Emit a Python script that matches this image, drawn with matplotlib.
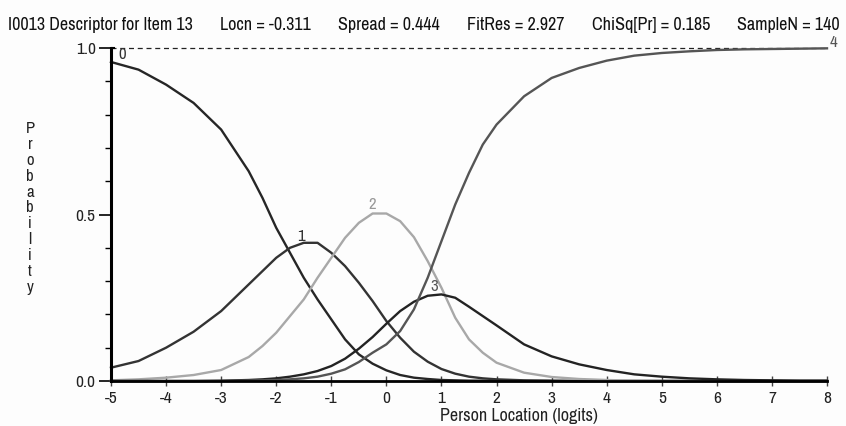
import matplotlib
matplotlib.use("Agg")
import matplotlib.pyplot as plt
from matplotlib import font_manager

# pick a narrow face if one is installed, otherwise shrink a normal one
faces = font_manager.fontManager.ttflist
narrow = [f for f in faces if "Narrow" in f.name]
cond = [f for f in faces if f.name == "DejaVu Sans" and "condensed" in str(f.stretch)]
if narrow:
    FAMILY, STRETCH, SCALE = narrow[0].name, "normal", 1.0
elif cond:
    FAMILY, STRETCH, SCALE = "DejaVu Sans", cond[0].stretch, 0.92
else:
    FAMILY, STRETCH, SCALE = "Liberation Sans", "normal", 0.84
plt.rcParams["font.family"] = [FAMILY, "DejaVu Sans"]
plt.rcParams["font.stretch"] = STRETCH

# person location (logits)
x = [-5, -4.5, -4, -3.5, -3, -2.5, -2.25, -2, -1.75, -1.5, -1.25, -1, -0.75, -0.5,
     -0.25, 0, 0.25, 0.5, 0.75, 1, 1.25, 1.5, 1.75, 2, 2.5, 3, 3.5, 4, 4.5, 5,
     5.5, 6, 6.5, 7, 7.5, 8]

# category probabilities
cat0 = [0.958, 0.935, 0.89, 0.835, 0.755, 0.63, 0.55, 0.46, 0.385, 0.31, 0.245, 0.185,
        0.125, 0.08, 0.052, 0.032, 0.018, 0.01, 0.006, 0.003, 0.002, 0.001, 0.001, 0,
        0, 0, 0, 0, 0, 0, 0, 0, 0, 0, 0, 0]
cat1 = [0.04, 0.06, 0.10, 0.148, 0.21, 0.29, 0.33, 0.37, 0.40, 0.415, 0.415, 0.385,
        0.345, 0.295, 0.24, 0.18, 0.13, 0.088, 0.058, 0.036, 0.022, 0.013, 0.008, 0.005,
        0.002, 0.001, 0, 0, 0, 0, 0, 0, 0, 0, 0, 0]
cat2 = [0.002, 0.005, 0.01, 0.018, 0.033, 0.072, 0.105, 0.145, 0.195, 0.245, 0.31, 0.37,
        0.43, 0.475, 0.503, 0.503, 0.48, 0.432, 0.36, 0.28, 0.19, 0.125, 0.085, 0.055,
        0.025, 0.012, 0.006, 0.003, 0.001, 0, 0, 0, 0, 0, 0, 0]
cat3 = [0, 0, 0, 0, 0.001, 0.003, 0.005, 0.008, 0.013, 0.02, 0.03, 0.045,
        0.067, 0.097, 0.132, 0.172, 0.21, 0.238, 0.256, 0.26, 0.25, 0.223, 0.195, 0.167,
        0.11, 0.074, 0.05, 0.033, 0.02, 0.013, 0.008, 0.005, 0.003, 0.002, 0.001, 0.001]
cat4 = [0, 0, 0, 0, 0, 0.001, 0.002, 0.003, 0.005, 0.008, 0.013, 0.022,
        0.035, 0.057, 0.085, 0.11, 0.15, 0.215, 0.31, 0.42, 0.53, 0.625, 0.71, 0.77,
        0.855, 0.91, 0.94, 0.962, 0.977, 0.985, 0.99, 0.994, 0.996, 0.997, 0.998, 0.999]

curves = [cat0, cat1, cat2, cat3, cat4]
colors = ["#262626", "#333333", "#a8a8a8", "#232323", "#555555"]
label_text = ["0", "1", "2", "3", "4"]
label_pos = [(-4.79, 0.98), (-1.56, 0.435), (-0.26, 0.53), (0.86, 0.284), (8.11, 1.018)]
label_colors = ["#333333", "#333333", "#999999", "#555555", "#555555"]

xticks = list(range(-5, 9))
yticks = [0.0, 0.5, 1.0]
yminor = [0.1, 0.2, 0.3, 0.4, 0.6, 0.7, 0.8, 0.9]

title_parts = ["I0013 Descriptor for Item 13", "Locn = -0.311", "Spread = 0.444",
               "FitRes = 2.927", "ChiSq[Pr] = 0.185", "SampleN = 140"]

W, H = 846, 426
fig = plt.figure(figsize=(W / 100, H / 100), dpi=100)
fig.patch.set_facecolor("#fdfdfd")
ax = fig.add_axes([111 / W, 1 - 381 / H, 716 / W, 333 / H])
ax.set_facecolor("#fdfdfd")
ax.set_xlim(-5, 8)
ax.set_ylim(0, 1)

# dashed reference at 1.0
ax.axhline(1.0, color="#222222", lw=0.9, ls=(0, (4, 3)), clip_on=False, zorder=1)

for y, c in zip(curves, colors):
    ax.plot(x, y, color=c, lw=1.7, clip_on=False, zorder=3)

for t, (lx, ly), c in zip(label_text, label_pos, label_colors):
    ax.text(lx, ly, t, color=c, fontsize=12 * SCALE, ha="center", va="center", zorder=4)

# axes lines
for s in ax.spines.values():
    s.set_visible(False)
ax.axvline(-5, color="black", lw=2.2, zorder=5, clip_on=False)
ax.axhline(0, color="black", lw=2.0, zorder=5, clip_on=False)
ax.hlines(1.0, -5, -4.92, color="black", lw=1.5, zorder=5, clip_on=False)

ax.set_xticks(xticks)
ax.set_xticklabels([str(v) for v in xticks])
ax.set_yticks(yticks)
ax.set_yticklabels(["%.1f" % v for v in yticks])
ax.set_yticks(yminor, minor=True)
ax.tick_params(axis="x", direction="inout", length=7, width=1, color="#444444",
               pad=4, labelsize=12.5 * SCALE, labelcolor="#222222")
ax.tick_params(axis="y", which="major", direction="out", length=9, width=1.2,
               color="black", pad=2, labelsize=12.5 * SCALE, labelcolor="#222222")
ax.tick_params(axis="y", which="minor", direction="out", length=4.3, width=1, color="black")

fig.text(519 / W, 1 - 416 / H, "Person Location (logits)", fontsize=13 * SCALE,
         ha="center", va="center", color="#222222")
fig.text(30 / W, 1 - 208 / H, "\n".join("Probability"), fontsize=12,
         ha="center", va="center", linespacing=1.08, color="#222222")

# header line: segments spread with even gaps between px 8 and 840
title_texts = [fig.text(0, 1 - 30 / H, t, fontsize=13 * SCALE, ha="left", va="baseline",
                        color="#111111") for t in title_parts]
renderer = fig.canvas.get_renderer()
widths = [t.get_window_extent(renderer).width for t in title_texts]
gap = (840 - 8 - sum(widths)) / (len(widths) - 1)
left = 8
for t, w in zip(title_texts, widths):
    t.set_x(left / W)
    left += w + gap

fig.savefig("out.png", dpi=100, facecolor=fig.get_facecolor())
